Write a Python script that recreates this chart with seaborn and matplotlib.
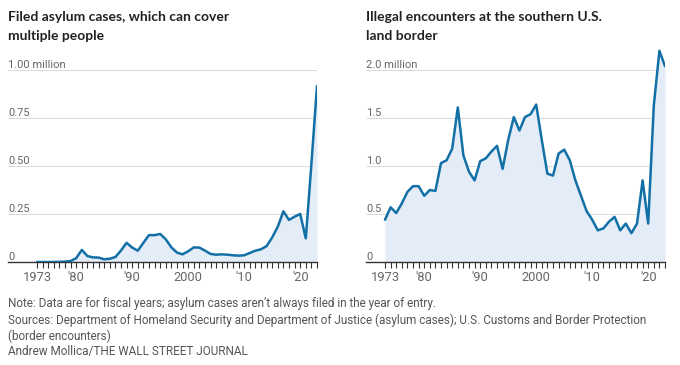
import numpy as np
import pandas as pd
import seaborn as sns
import matplotlib.pyplot as plt

years = list(range(1973, 2024))

# filed asylum cases, millions
asylum = [0.0, 0.0, 0.0, 0.0, 0.001, 0.002, 0.005,
          0.02, 0.063, 0.031, 0.024, 0.023, 0.014, 0.017, 0.026, 0.06, 0.10,
          0.075, 0.059, 0.10, 0.14, 0.14, 0.146, 0.118, 0.076, 0.049, 0.04,
          0.056, 0.076, 0.075, 0.059, 0.042, 0.038, 0.04, 0.038, 0.035, 0.033,
          0.035, 0.047, 0.059, 0.066, 0.083, 0.128, 0.184, 0.264, 0.219, 0.236,
          0.25, 0.123, 0.51, 0.917]

# illegal encounters at the southern border, millions
encounters = [0.44, 0.57, 0.51, 0.61, 0.73, 0.79, 0.79,
              0.69, 0.75, 0.74, 1.03, 1.06, 1.18, 1.61, 1.11, 0.94, 0.85,
              1.05, 1.08, 1.15, 1.21, 0.97, 1.27, 1.51, 1.37, 1.51, 1.54,
              1.64, 1.27, 0.92, 0.90, 1.13, 1.17, 1.06, 0.85, 0.69, 0.53,
              0.44, 0.33, 0.35, 0.42, 0.47, 0.33, 0.40, 0.30, 0.40, 0.85,
              0.40, 1.63, 2.20, 2.04]

major_years = [1973, 1980, 1990, 2000, 2010, 2020]
major_labels = ['1973', "'80", "'90", '2000', "'10", "'20"]

left_ticks = [0, 0.25, 0.50, 0.75, 1.00]
left_labels = ['0', '0.25', '0.50', '0.75', '1.00 million']
right_ticks = [0, 0.5, 1.0, 1.5, 2.0]
right_labels = ['0', '0.5', '1.0', '1.5', '2.0 million']

titles = ['Filed asylum cases, which can cover\nmultiple people',
          'Illegal encounters at the southern U.S.\nland border']

notes = ["Note: Data are for fiscal years; asylum cases aren\u2019t always filed in the year of entry.",
         "Sources: Department of Homeland Security and Department of Justice (asylum cases); U.S. Customs and Border Protection",
         "(border encounters)",
         "Andrew Mollica/THE WALL STREET JOURNAL"]

df = pd.DataFrame({'year': years, 'asylum': asylum, 'encounters': encounters})

sns.set_style('white')
plt.rcParams['font.family'] = ['Roboto', 'DejaVu Sans']

W, H = 680, 365
fig = plt.figure(figsize=(W / 100, H / 100), dpi=100)

line_c = '#1270a6'
fill_c = '#e4ecf7'
grid_c = '#dcdcdc'
txt_c = '#666666'

def px_axes(x0, x1, ytop, ybase):
    return fig.add_axes([x0 / W, (H - ybase) / H, (x1 - x0) / W, (ybase - ytop) / H])

# left: 1.00 at y=70, base at 262 -> 192 px per 1.0
ax1 = px_axes(8, 317, 70, 262)
ax1.set_ylim(0, 1.0)
ax1.set_xlim(1973 - 29 / 5.6, 2023)
# right: 2.0 at y=70 -> 96 px per 1.0, top 2.25
ax2 = px_axes(366, 665, 262 - 2.25 * 96, 262)
ax2.set_ylim(0, 2.25)
ax2.set_xlim(1973 - 19 / 5.6, 2023)

for ax, col, yt, yl, title in [(ax1, 'asylum', left_ticks, left_labels, titles[0]),
                               (ax2, 'encounters', right_ticks, right_labels, titles[1])]:
    ax.fill_between(df['year'], df[col], 0, color=fill_c, lw=0, zorder=1)
    sns.lineplot(data=df, x='year', y=col, ax=ax, color=line_c, lw=1.8, zorder=3)
    for t, lab in zip(yt, yl):
        if t > 0:
            ax.axhline(t, color=grid_c, lw=0.8, zorder=0)
        ax.text(0, t, lab, transform=ax.get_yaxis_transform(), ha='left', va='bottom',
                fontsize=8, color=txt_c)
    for s in ['top', 'right', 'left']:
        ax.spines[s].set_visible(False)
    ax.spines['bottom'].set_color('#333333')
    ax.spines['bottom'].set_linewidth(1)
    ax.set_yticks([])
    ax.set_xticks(major_years)
    ax.set_xticklabels(major_labels)
    ax.set_xticks(years, minor=True)
    ax.tick_params(axis='x', which='both', direction='out', length=4, width=0.8,
                   color='#333333', labelsize=9.3, labelcolor=txt_c, pad=2.5, bottom=True)
    ax.set_xlabel('')
    ax.set_ylabel('')
    ax.patch.set_alpha(0)
    x0 = ax.get_position().x0
    fig.text(x0, 1 - 11 / H, title, ha='left', va='top', fontsize=10,
             fontweight='bold', color='#222222', family=['Lato', 'DejaVu Sans'],
             linespacing=1.7)

for i, n in enumerate(notes):
    fig.text(8 / W, 1 - (304 + 16 * i) / H, n, ha='left', va='center',
             fontsize=8.5, color='#555555')

fig.savefig('out.png', dpi=100)
